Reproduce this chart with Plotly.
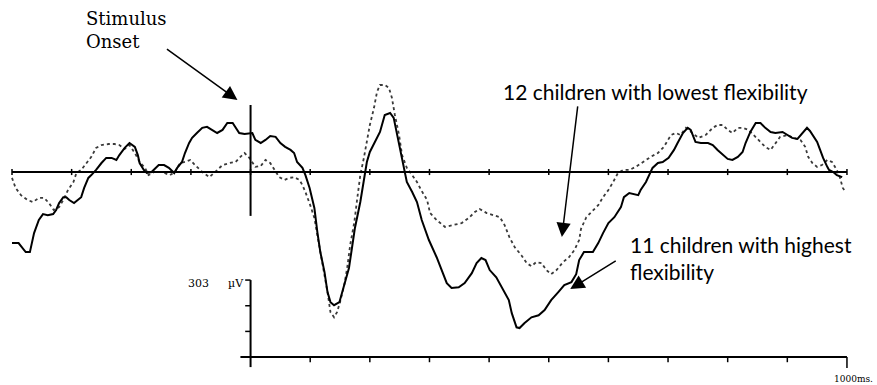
import plotly.graph_objects as go

# ---------------- data ----------------
# 11 children with highest flexibility (solid line): time in ms, amplitude in µV
high_ms = [-400, -389, -377, -370, -363, -355, -348, -340, -331, -326, -321, -314, -309, -304, -296, -289,
           -284, -279, -272, -267, -259, -250, -242, -233, -225, -220, -211, -203, -194, -189, -186, -179,
           -174, -166, -154, -145, -137, -128, -123, -115, -110, -103, -98, -90, -81, -73, -64, -56, -47,
           -39, -30, -25, -19, -10, -2, 3, 8, 17, 25, 33, 42, 50, 58, 67, 73, 78, 87, 92, 99, 107, 112,
           117, 124, 129, 134, 140, 149, 154, 159, 165, 170, 175, 184, 190, 195, 200, 209, 217, 225, 234,
           240, 245, 250, 257, 262, 271, 279, 287, 299, 312, 321, 329, 337, 349, 359, 371, 379, 387, 394,
           401, 412, 424, 433, 438, 446, 451, 459, 471, 483, 493, 504, 516, 526, 538, 546, 551, 559, 574,
           583, 591, 600, 610, 621, 626, 635, 650, 654, 663, 668, 674, 683, 691, 701, 710, 716, 725, 733,
           738, 746, 755, 767, 775, 783, 792, 800, 808, 817, 825, 830, 838, 847, 855, 863, 872, 880, 892,
           900, 908, 917, 925, 933, 938, 943, 950, 955, 960, 967, 970, 977, 983, 992]
high_uv = [-2.77, -2.77, -3.12, -3.12, -2.38, -1.87, -1.64, -1.68, -1.64, -1.48, -1.21, -0.98, -0.98, -1.09,
           -1.21, -1.09, -0.98, -0.62, -0.23, -0.12, 0.08, 0.35, 0.55, 0.55, 0.47, 0.66, 0.94, 1.13, 0.98,
           0.66, 0.35, 0.08, -0.04, 0.00, 0.27, 0.27, 0.16, -0.04, 0.16, 0.39, 0.74, 1.13, 1.33, 1.52, 1.72,
           1.76, 1.64, 1.52, 1.64, 1.91, 1.91, 1.72, 1.52, 1.48, 1.52, 1.52, 1.25, 1.13, 1.25, 1.40, 1.37,
           1.13, 0.98, 0.86, 0.74, 0.39, 0.16, -0.12, -0.62, -1.40, -2.34, -3.12, -3.90, -4.68, -5.07, -5.19,
           -5.07, -4.68, -4.29, -3.74, -2.96, -2.18, -1.17, -0.39, 0.39, 0.78, 1.17, 1.56, 2.22, 2.30, 2.11,
           1.56, 0.94, 0.16, -0.39, -0.78, -1.17, -1.87, -2.65, -3.32, -3.82, -4.33, -4.52, -4.49, -4.33,
           -3.94, -3.55, -3.35, -3.43, -3.82, -4.10, -4.60, -4.99, -5.50, -6.05, -6.08, -5.89, -5.66, -5.58,
           -5.38, -4.99, -4.68, -4.41, -4.29, -3.98, -3.43, -3.12, -3.12, -2.77, -2.38, -1.99, -1.76, -1.37,
           -0.98, -0.82, -0.90, -0.70, -0.39, -0.12, 0.16, 0.35, 0.39, 0.55, 0.86, 1.13, 1.52, 1.72, 1.64,
           1.17, 1.13, 1.13, 1.05, 0.86, 0.66, 0.51, 0.47, 0.59, 0.78, 1.13, 1.56, 1.91, 1.91, 1.72, 1.56,
           1.52, 1.56, 1.44, 1.33, 1.29, 1.52, 1.72, 1.60, 1.44, 1.17, 0.86, 0.55, 0.20, 0.08, 0.00, -0.12,
           -0.20]

# 12 children with lowest flexibility (dotted line)
low_ms = [-400, -394, -385, -374, -365, -355, -346, -338, -330, -321, -314, -306, -297, -292, -284, -275,
          -267, -259, -250, -238, -228, -220, -211, -203, -194, -186, -177, -171, -162, -149, -135, -127,
          -118, -110, -101, -93, -81, -69, -56, -47, -35, -25, -17, -10, -2, 8, 17, 25, 33, 42, 48, 57, 65,
          73, 82, 87, 92, 100, 107, 112, 117, 124, 129, 134, 140, 145, 150, 157, 162, 167, 174, 179, 184,
          190, 195, 200, 207, 212, 217, 225, 232, 237, 242, 249, 254, 262, 271, 279, 287, 296, 301, 312,
          326, 341, 354, 366, 376, 384, 396, 407, 418, 426, 434, 443, 454, 463, 471, 479, 488, 496, 504,
          513, 524, 534, 543, 551, 554, 563, 574, 583, 591, 600, 608, 616, 625, 635, 646, 658, 671, 683,
          693, 705, 713, 721, 730, 741, 751, 763, 775, 783, 792, 800, 808, 817, 825, 835, 843, 855, 863,
          872, 880, 888, 900, 910, 922, 930, 935, 942, 950, 958, 967, 975, 983, 988, 993, 998]
low_uv = [-0.23, -0.62, -0.90, -1.09, -1.17, -1.01, -1.01, -1.21, -1.48, -1.37, -1.09, -0.70, -0.39, -0.04,
          0.08, 0.35, 0.59, 0.94, 1.05, 1.09, 1.09, 1.05, 0.90, 1.05, 0.74, 0.39, 0.16, -0.12, 0.00, 0.00,
          -0.12, 0.00, 0.35, 0.39, 0.47, 0.27, 0.00, -0.20, 0.08, 0.27, 0.35, 0.39, 0.59, 0.74, 0.55, 0.20,
          0.23, 0.47, 0.35, 0.00, -0.20, -0.31, -0.23, -0.20, -0.31, -0.51, -0.78, -1.29, -1.79, -2.46,
          -3.12, -3.90, -4.68, -5.46, -5.66, -5.46, -5.07, -4.41, -3.74, -2.85, -1.95, -1.01, -0.12, 0.55,
          1.17, 1.83, 2.50, 3.12, 3.39, 3.39, 3.28, 2.89, 2.22, 1.44, 0.66, 0.16, -0.12, -0.39, -0.74,
          -1.09, -1.60, -1.87, -2.14, -2.07, -1.99, -1.79, -1.56, -1.44, -1.60, -1.68, -1.76, -2.07, -2.54,
          -2.93, -3.24, -3.55, -3.67, -3.51, -3.55, -3.82, -3.98, -3.82, -3.51, -3.32, -3.04, -2.65, -2.22,
          -1.76, -1.48, -1.29, -0.98, -0.70, -0.39, -0.04, 0.08, 0.08, 0.20, 0.39, 0.59, 0.74, 0.98, 1.44,
          1.52, 1.44, 1.72, 1.52, 1.33, 1.44, 1.72, 1.83, 1.83, 1.64, 1.52, 1.72, 1.72, 1.64, 1.44, 1.17,
          0.98, 0.86, 1.13, 1.37, 1.44, 1.33, 1.25, 0.98, 0.59, 0.35, 0.20, 0.27, 0.47, 0.39, 0.08, -0.20,
          -0.62, -0.78]

# time axis ticks (ms) and calibration bar
tick_ms = [-400, -300, -200, -100, 0, 100, 200, 300, 400, 500, 600, 700, 800, 900, 1000]
cal_ms = [0, 100, 200, 300, 400, 500, 600, 700, 800, 900, 1000]
cal_base_uv = -7.21
cal_steps_uv = [0, 1, 2, 3]

label_high = "11 children with highest<br>flexibility"
label_low = "12 children with lowest flexibility"
label_onset = "Stimulus<br>Onset"
label_cal_value = "303"
label_cal_unit = "µV"
label_time = "1000ms."

# ---------------- figure ----------------
W, H = 877, 385
PX_PER_MS = 0.5964
X0 = -400 - 12 / PX_PER_MS
X1 = X0 + W / PX_PER_MS
PX_PER_UV = 25.67
Y1 = 172 / PX_PER_UV
Y0 = Y1 - H / PX_PER_UV

fig = go.Figure()
fig.add_trace(go.Scatter(x=low_ms, y=low_uv, mode="lines",
                         line=dict(color="#3a3a3a", width=1.8, dash="dot"), hoverinfo="skip"))
fig.add_trace(go.Scatter(x=high_ms, y=high_uv, mode="lines",
                         line=dict(color="black", width=2), hoverinfo="skip"))

shapes = []
blk = dict(color="black", width=2)
# main baseline
shapes.append(dict(type="line", xref="x", yref="y", x0=tick_ms[0], x1=tick_ms[-1], y0=0, y1=0, line=blk))
for t in tick_ms:
    shapes.append(dict(type="line", xref="x", yref="y", x0=t, x1=t, y0=-0.12, y1=0.12,
                       line=dict(color="black", width=1.5)))
# stimulus onset line
shapes.append(dict(type="line", xref="x", yref="y", x0=0, x1=0, y0=2.61, y1=-1.71, line=blk))
# calibration axes
shapes.append(dict(type="line", xref="x", yref="y", x0=-17, x1=cal_ms[-1], y0=cal_base_uv, y1=cal_base_uv,
                   line=blk))
shapes.append(dict(type="line", xref="x", yref="y", x0=0, x1=0, y0=cal_base_uv + cal_steps_uv[-1],
                   y1=cal_base_uv - 0.39, line=blk))
for s in cal_steps_uv[1:]:
    shapes.append(dict(type="line", xref="x", yref="y", x0=-9, x1=0, y0=cal_base_uv + s, y1=cal_base_uv + s,
                       line=dict(color="black", width=1.5)))
for t in cal_ms[1:]:
    drop = 0.43 if t == cal_ms[-1] else 0.2
    shapes.append(dict(type="line", xref="x", yref="y", x0=t, x1=t, y0=cal_base_uv, y1=cal_base_uv - drop,
                       line=dict(color="black", width=1.5)))

ann = []
serif = "DejaVu Serif"
sans = "Lato"
ann.append(dict(xref="paper", yref="paper", x=84 / W, y=1 - 6 / H, xanchor="left", yanchor="top",
                text=label_onset, showarrow=False, align="left",
                font=dict(family=serif, size=18, color="black")))
ann.append(dict(xref="paper", yref="paper", x=501 / W, y=1 - 92 / H, xanchor="left", yanchor="middle",
                text=label_low, showarrow=False, font=dict(family=sans, size=21, color="black")))
ann.append(dict(xref="paper", yref="paper", x=628 / W, y=1 - 258 / H, xanchor="left", yanchor="middle",
                text=label_high, showarrow=False, align="left",
                font=dict(family=sans, size=21, color="black")))
ann.append(dict(xref="paper", yref="paper", x=198 / W, y=1 - 283 / H, xanchor="center", yanchor="middle",
                text=label_cal_value, showarrow=False, font=dict(family=serif, size=11, color="black")))
ann.append(dict(xref="paper", yref="paper", x=236 / W, y=1 - 283 / H, xanchor="center", yanchor="middle",
                text=label_cal_unit, showarrow=False, font=dict(family=serif, size=11, color="black")))
ann.append(dict(xref="paper", yref="paper", x=875 / W, y=1 - 379 / H, xanchor="right", yanchor="middle",
                text=label_time, showarrow=False, font=dict(family=serif, size=9, color="black")))

# arrows (tip in data coords, tail offset in pixels)
arrow_style = dict(showarrow=True, arrowhead=2, arrowsize=1.9, arrowwidth=1.5, arrowcolor="black",
                   text="", xref="x", yref="y", axref="pixel", ayref="pixel", standoff=0, startstandoff=0)
ann.append(dict(x=-22, y=2.80, ax=-72, ay=-52, **arrow_style))
ann.append(dict(x=522, y=-2.53, ax=16, ay=-132, **arrow_style))
ann.append(dict(x=536, y=-4.56, ax=47, ay=-29, **arrow_style))

fig.update_layout(
    width=W, height=H, margin=dict(l=0, r=0, t=0, b=0),
    paper_bgcolor="white", plot_bgcolor="white", showlegend=False,
    xaxis=dict(range=[X0, X1], visible=False, fixedrange=True),
    yaxis=dict(range=[Y0, Y1], visible=False, fixedrange=True),
    shapes=shapes, annotations=ann,
)
fig.write_html("out.html", config={"displayModeBar": False},
               post_script="document.body.style.margin='0';document.body.style.overflow='hidden';")
